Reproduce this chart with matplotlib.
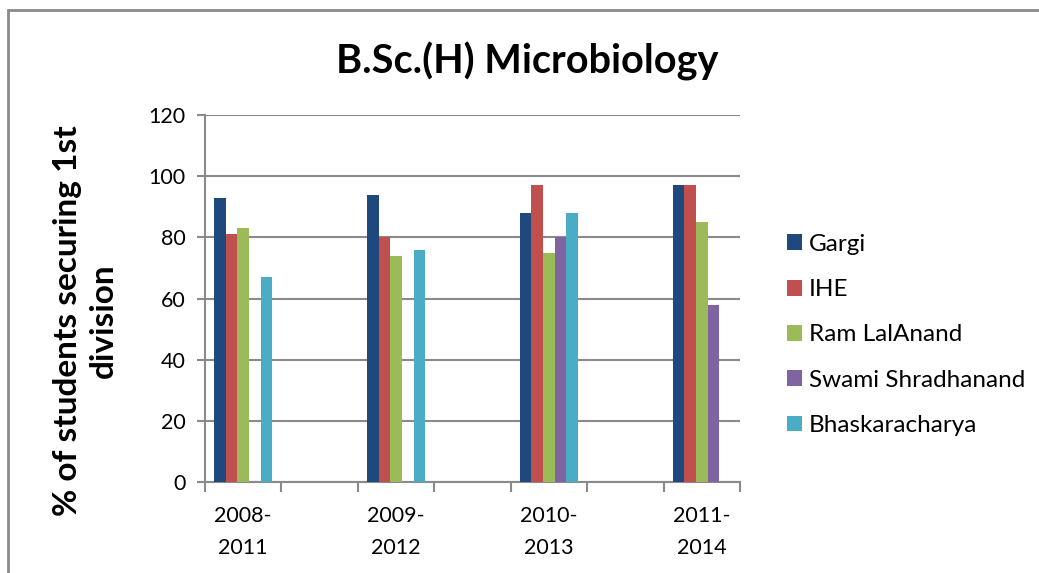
import numpy as np
import matplotlib
matplotlib.use("Agg")
import matplotlib.pyplot as plt
from matplotlib.patches import Rectangle

plt.rcParams['font.family'] = ['Lato', 'DejaVu Sans']

# Dados (colunas em branco entre os períodos, como na planilha)
periodos = ['2008-\n2011', '', '2009-\n2012', '', '2010-\n2013', '', '2011-\n2014']
faculdades = ['Gargi', 'IHE', 'Ram LalAnand', 'Swami Shradhanand', 'Bhaskaracharya']
gargi = [93, np.nan, 94, np.nan, 88, np.nan, 97]
ihe = [81, np.nan, 80, np.nan, 97, np.nan, 97]
ram_lal_anand = [83, np.nan, 74, np.nan, 75, np.nan, 85]
swami_shradhanand = [np.nan, np.nan, np.nan, np.nan, 80, np.nan, 58]
bhaskaracharya = [67, np.nan, 76, np.nan, 88, np.nan, np.nan]
cores = ['#1F497D', '#C0504D', '#9BBB59', '#8064A2', '#4BACC6']

series = [gargi, ihe, ram_lal_anand, swami_shradhanand, bhaskaracharya]

fig = plt.figure(figsize=(10.39, 5.73), dpi=100)
ax = fig.add_axes([0.1973, 0.1588, 0.5149, 0.6405])

x = np.arange(len(periodos))
largura = 0.153
for i, (valores, nome, cor) in enumerate(zip(series, faculdades, cores)):
    ax.bar(x + (i - 2) * largura, valores, width=largura, color=cor, label=nome, zorder=3)

ax.set_xlim(-0.5, len(periodos) - 0.5)
ax.set_ylim(0, 120)
ax.set_yticks(np.arange(0, 121, 20))
ax.yaxis.grid(True, color='#8a8a8a', linewidth=1.5, zorder=0)
ax.tick_params(axis='y', labelsize=15.5, length=6, color='#8a8a8a', width=1.5, pad=8)

# marcas nas divisas das categorias, rótulos no centro
ax.set_xticks(np.arange(-0.5, len(periodos), 1))
ax.set_xticklabels([])
ax.tick_params(axis='x', which='major', length=7, color='#8a8a8a', width=1.5)
ax.set_xticks(x, minor=True)
ax.set_xticklabels(periodos, minor=True, fontsize=15.5, linespacing=1.75)
ax.tick_params(axis='x', which='minor', length=0, pad=17)

for lado in ['top', 'right']:
    ax.spines[lado].set_visible(False)
for lado in ['left', 'bottom']:
    ax.spines[lado].set_color('#8a8a8a')
    ax.spines[lado].set_linewidth(1.5)

ax.set_ylabel('% of students securing 1st\ndivision', fontsize=24, fontweight='bold',
              linespacing=1.28)
ax.yaxis.set_label_coords(-0.163, 0.439)
fig.text(0.507, 0.893, 'B.Sc.(H) Microbiology', fontsize=28.5, fontweight='bold',
         ha='center', va='center')

fig.legend(loc='upper left', bbox_to_anchor=(0.736, 0.63), frameon=False, fontsize=17.5,
           handlelength=0.62, handleheight=0.62, handletextpad=0.3, labelspacing=1.0)

# borda do gráfico
fig.patches.append(Rectangle((7.5 / 1039, -0.05), 1.1, 1.05 - 10 / 573,
                             transform=fig.transFigure, fill=False,
                             edgecolor='#8a8a8a', linewidth=2))

plt.savefig('out.png', dpi=100)
